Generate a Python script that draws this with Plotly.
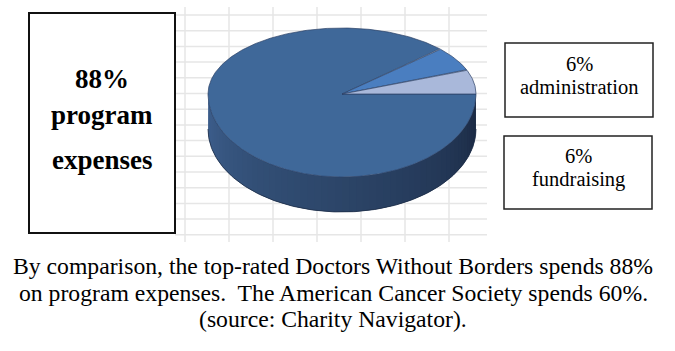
import numpy as np
import plotly.graph_objects as go

# ---- data ----
labels = ["program expenses", "administration", "fundraising"]
values = [88, 6, 6]
box_words = [["program", "expenses"], ["administration"], ["fundraising"]]
caption_lines = [
    "By comparison, the top-rated Doctors Without Borders spends 88%",
    "on program expenses.\u00a0 The American Cancer Society spends 60%.",
    "(source: Charity Navigator).",
]

# ---- styling ----
slice_colors = ["#3f6899", "#4a7ec0", "#a9b8da"]
outline = "#2b4166"
FONT = "'Liberation Serif', 'Times New Roman', Tinos, 'DejaVu Serif', serif"
W, H = 675, 351

# pie geometry in pixel space (3D-like projected ellipse)
CX, CY, A, BT, BB, DEPTH = 342, 94, 134, 66, 83, 35


def pt(tdeg):
    t = np.radians(tdeg)
    s = np.sin(t)
    b = np.where(s > 0, BT, BB)
    return CX + A * np.cos(t), CY - b * s


fig = go.Figure()

# side wall (lower half), shaded gradient
stops_t = [180, 230, 270, 320, 350, 360]
stops_c = [(62, 96, 142), (50, 79, 118), (44, 69, 104), (35, 55, 86), (28, 44, 70), (26, 41, 66)]
ts = np.linspace(180, 360, 61)
for i in range(len(ts) - 1):
    t_end = ts[min(i + 2, len(ts) - 1)]  # overlap next segment to hide seams
    seg = np.linspace(ts[i], t_end, 6)
    xt, yt = pt(seg)
    xs = np.concatenate([xt, xt[::-1]])
    ys = np.concatenate([yt, (yt + DEPTH)[::-1]])
    tm = (ts[i] + ts[i + 1]) / 2
    c = [np.interp(tm, stops_t, [sc[k] for sc in stops_c]) for k in range(3)]
    col = "rgb(%d,%d,%d)" % tuple(int(round(v)) for v in c)
    fig.add_trace(go.Scatter(x=xs, y=ys, mode="lines", fill="toself",
                             fillcolor=col, line=dict(width=0),
                             hoverinfo="skip", showlegend=False))

# wall outline bottom edge
xb, yb = pt(np.linspace(180, 360, 181))
fig.add_trace(go.Scatter(x=xb, y=yb + DEPTH, mode="lines",
                         line=dict(color="#1d2d48", width=0.8),
                         hoverinfo="skip", showlegend=False))

# top face slices, clockwise from 3 o'clock
total = float(sum(values))
start = 0.0
for lab, v, col in zip(labels, values, slice_colors):
    sweep = 360.0 * v / total
    n = max(8, int(sweep * 2))
    ang = np.linspace(start, start - sweep, n)
    xa, ya = pt(ang)
    xs = np.concatenate([[CX], xa, [CX]])
    ys = np.concatenate([[CY], ya, [CY]])
    fig.add_trace(go.Scatter(x=xs, y=ys, mode="lines", fill="toself",
                             fillcolor=col, line=dict(color=outline, width=0.7),
                             name=lab, hoverinfo="skip", showlegend=False))
    start -= sweep

shapes = []
# background spreadsheet grid
for k in range(7):
    xg = 185 + 44 * k
    shapes.append(dict(type="line", x0=xg, x1=xg, y0=7, y1=242, xref="x", yref="y",
                       line=dict(color="#e6e6e6", width=1.5), layer="below"))
for k in range(15):
    yg = 15 + 15.7 * k
    shapes.append(dict(type="line", x0=175, x1=487, y0=yg, y1=yg, xref="x", yref="y",
                       line=dict(color="#e6e6e6", width=1.5), layer="below"))

# text boxes
shapes.append(dict(type="rect", x0=29, y0=13, x1=175, y1=233, xref="x", yref="y",
                   fillcolor="white", line=dict(color="#111111", width=2)))
shapes.append(dict(type="rect", x0=505, y0=43, x1=653, y1=117, xref="x", yref="y",
                   fillcolor="white", line=dict(color="#222222", width=1.5)))
shapes.append(dict(type="rect", x0=504, y0=136, x1=652, y1=209, xref="x", yref="y",
                   fillcolor="white", line=dict(color="#222222", width=1.5)))

annotations = []


def add_text(txt, x, y, size, bold=False):
    annotations.append(dict(text=("<b>%s</b>" % txt) if bold else txt, x=x, y=y,
                            xref="x", yref="y", showarrow=False,
                            xanchor="center", yanchor="middle",
                            font=dict(family=FONT, size=size, color="black")))


# left box: program expenses
add_text("%d%%" % values[0], 102, 79, 27, bold=True)
add_text(box_words[0][0], 102, 115, 27, bold=True)
add_text(box_words[0][1], 102, 160, 27, bold=True)
# right boxes
add_text("%d%%" % values[1], 579, 64, 20.5)
add_text(box_words[1][0], 579, 87, 20.5)
add_text("%d%%" % values[2], 578, 156, 20.5)
add_text(box_words[2][0], 578, 179, 20.5)
# caption
for line, yc in zip(caption_lines, [266, 293, 319]):
    add_text(line, 333, yc, 23.7)

fig.update_layout(
    width=W, height=H, margin=dict(l=0, r=0, t=0, b=0),
    paper_bgcolor="white", plot_bgcolor="white",
    font=dict(family=FONT),
    xaxis=dict(range=[0, W], visible=False, fixedrange=True),
    yaxis=dict(range=[H, 0], visible=False, fixedrange=True),
    shapes=shapes, annotations=annotations, showlegend=False,
)

fig.write_html("out.html")
